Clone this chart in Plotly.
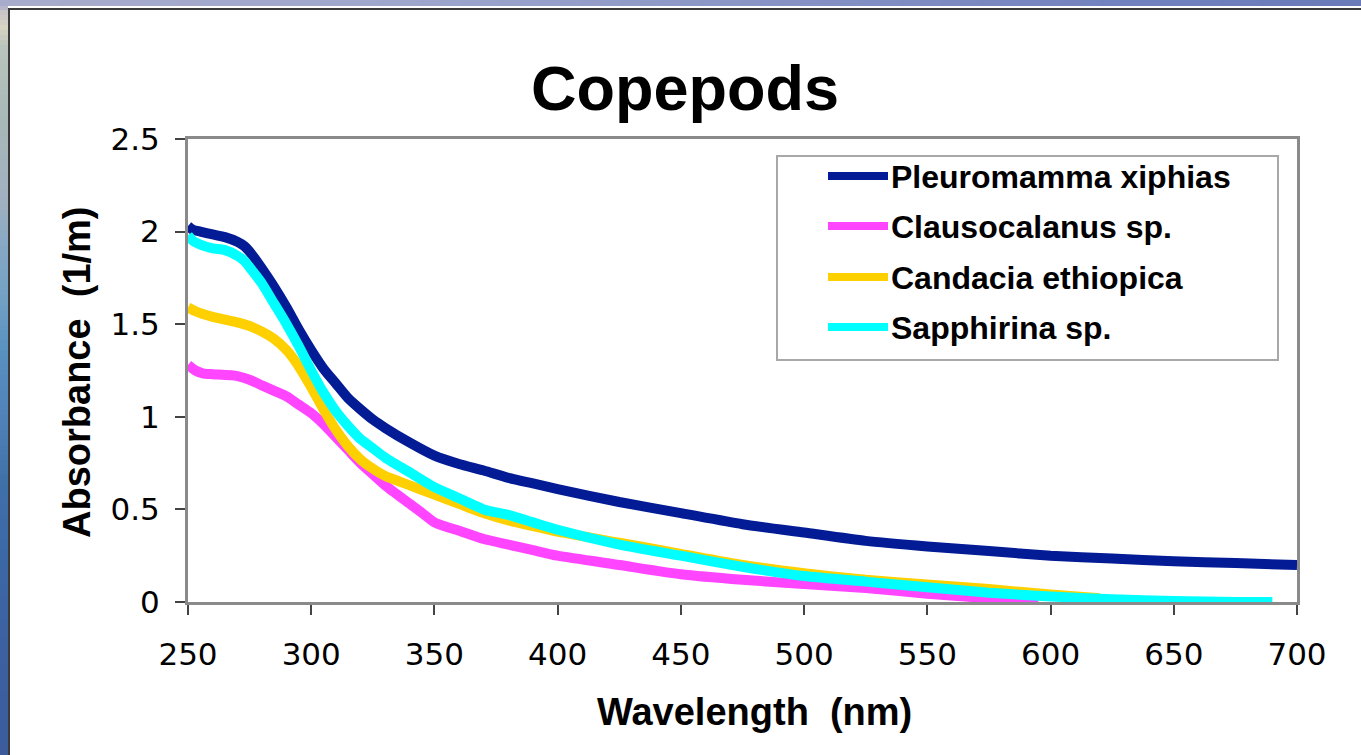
import plotly.graph_objects as go

# ---- absorbance spectra (wavelength in nm, absorbance in 1/m) ----
wl_pleuromamma = [250, 252, 255, 260, 265, 270, 273, 276, 280, 285, 290, 295, 300, 305, 310, 315, 320,
                  325, 330, 340, 350, 360, 370, 380, 390, 400, 425, 450, 475, 500, 525, 550, 575,
                  600, 625, 650, 675, 700]
abs_pleuromamma = [2.03, 2.01, 2.00, 1.985, 1.97, 1.945, 1.92, 1.875, 1.80, 1.70, 1.59, 1.47, 1.36, 1.26, 1.18, 1.10, 1.04,
                   0.985, 0.94, 0.86, 0.79, 0.745, 0.71, 0.67, 0.64, 0.61, 0.54, 0.48, 0.42, 0.375, 0.33, 0.30, 0.275,
                   0.25, 0.235, 0.22, 0.21, 0.20]

wl_clausocalanus = [250, 253, 256, 260, 270, 275, 280, 285, 290, 295, 300, 305, 310, 315, 320, 325, 330, 340, 345,
                    350, 355, 360, 370, 380, 390, 400, 425, 450, 475, 500, 525, 550, 575, 595]
abs_clausocalanus = [1.28, 1.25, 1.235, 1.23, 1.22, 1.20, 1.17, 1.14, 1.11, 1.065, 1.02, 0.96, 0.89, 0.82, 0.75, 0.69, 0.63, 0.53, 0.48,
                     0.43, 0.405, 0.385, 0.34, 0.31, 0.28, 0.25, 0.20, 0.15, 0.12, 0.097, 0.075, 0.045, 0.02, 0.0]

wl_candacia = [250, 253, 256, 260, 265, 270, 275, 280, 285, 290, 293, 296, 300, 305, 310, 315, 320, 325, 330,
               340, 350, 360, 370, 380, 390, 400, 425, 450, 475, 500, 525, 550, 575, 600, 620]
abs_candacia = [1.59, 1.57, 1.555, 1.54, 1.525, 1.51, 1.49, 1.46, 1.42, 1.36, 1.31, 1.25, 1.16, 1.04, 0.93, 0.84, 0.77, 0.72, 0.68,
                0.63, 0.58, 0.53, 0.48, 0.44, 0.41, 0.38, 0.32, 0.26, 0.20, 0.155, 0.12, 0.095, 0.07, 0.04, 0.02]

wl_sapphirina = [250, 252, 255, 260, 265, 270, 273, 276, 280, 285, 290, 295, 300, 305, 310, 315, 320,
                 325, 330, 340, 350, 360, 370, 380, 390, 400, 425, 450, 475, 500, 525, 550, 575,
                 600, 625, 650, 675, 690]
abs_sapphirina = [1.98, 1.95, 1.93, 1.91, 1.90, 1.87, 1.84, 1.79, 1.72, 1.61, 1.50, 1.38, 1.25, 1.13, 1.03, 0.95, 0.88,
                  0.83, 0.78, 0.70, 0.62, 0.56, 0.50, 0.47, 0.43, 0.39, 0.31, 0.25, 0.19, 0.14, 0.11, 0.08, 0.05,
                  0.03, 0.015, 0.005, 0.0, 0.0]

series_names = ["Pleuromamma xiphias", "Clausocalanus sp.", "Candacia ethiopica", "Sapphirina sp."]
series_colors = ["#031b94", "#ff45ff", "#ffd000", "#00ffff"]
series_x = [wl_pleuromamma, wl_clausocalanus, wl_candacia, wl_sapphirina]
series_y = [abs_pleuromamma, abs_clausocalanus, abs_candacia, abs_sapphirina]

x_ticks = [250, 300, 350, 400, 450, 500, 550, 600, 650, 700]
y_ticks = [0, 0.5, 1, 1.5, 2, 2.5]
y_tick_text = ["0", "0.5", "1", "1.5", "2", "2.5"]

# ---- page geometry ----
W, H = 1361, 755
L, R, T, B = 188, 1297, 139, 602          # plot-area edges in pixels


def xp(px):
    return (px - L) / (R - L)


def yp(py):
    return 1 - (py - T) / (B - T)


def hex2rgb(h):
    h = h.lstrip("#")
    return tuple(int(h[i:i + 2], 16) for i in (0, 2, 4))


def blend(c1, c2, t):
    a, b = hex2rgb(c1), hex2rgb(c2)
    return "rgb(%d,%d,%d)" % tuple(round(a[i] + (b[i] - a[i]) * t) for i in range(3))


fig = go.Figure()

for name, color, xs, ys in zip(series_names, series_colors, series_x, series_y):
    fig.add_trace(go.Scatter(x=xs, y=ys, mode="lines", name=name,
                             line=dict(color=color, width=10, shape="spline", smoothing=0.6),
                             showlegend=False))

shapes = []
# slide backdrop: textured blue strip on the left
left_stops = [(0, "#a4a8c8"), (10, "#c8c4c8"), (25, "#d8d4c4"), (45, "#b8c4bc"), (120, "#a8b8b8"),
              (200, "#a0b0c0"), (240, "#88a8c4"), (300, "#70a0c4"), (350, "#5890c0"),
              (420, "#5080b8"), (480, "#4070a8"), (550, "#3c68a8"), (650, "#3c60a0"), (755, "#3c5c9c")]
for (y0, c0), (y1, c1) in zip(left_stops[:-1], left_stops[1:]):
    step = 5
    yy = y0
    while yy < y1:
        y2 = min(yy + step, y1)
        shapes.append(dict(type="rect", xref="paper", yref="paper", layer="below",
                           x0=xp(0), x1=xp(8), y0=yp(yy), y1=yp(y2 + 0.5),
                           fillcolor=blend(c0, c1, (yy - y0) / (y1 - y0)), line=dict(width=0)))
        yy = y2
# slide backdrop: blue band along the top
top_stops = [(0, "#a8accc"), (400, "#9ea6cc"), (1100, "#7282be"), (1361, "#6a7ab8")]
for (x0, c0), (x1, c1) in zip(top_stops[:-1], top_stops[1:]):
    step = 20
    xx = x0
    while xx < x1:
        x2 = min(xx + step, x1)
        shapes.append(dict(type="rect", xref="paper", yref="paper", layer="below",
                           x0=xp(xx), x1=xp(x2 + 0.5), y0=yp(0), y1=yp(6),
                           fillcolor=blend(c0, c1, (xx - x0) / (x1 - x0)), line=dict(width=0)))
        xx = x2
# chart frame: dark edge on the left and top of the white panel
shapes.append(dict(type="rect", xref="paper", yref="paper", layer="below",
                   x0=xp(8), x1=xp(10), y0=yp(8), y1=yp(H), fillcolor="#3a3a3a", line=dict(width=0)))
shapes.append(dict(type="rect", xref="paper", yref="paper", layer="below",
                   x0=xp(8), x1=xp(W), y0=yp(8), y1=yp(10), fillcolor="#3a3a3a", line=dict(width=0)))

# legend box
LEG_X0, LEG_X1, LEG_Y0, LEG_Y1 = 777, 1278, 156, 360
shapes.append(dict(type="rect", xref="paper", yref="paper",
                   x0=xp(LEG_X0), x1=xp(LEG_X1), y0=yp(LEG_Y1), y1=yp(LEG_Y0),
                   fillcolor="white", line=dict(color="#a8a8a8", width=2)))
row_y = [176, 226, 277, 327]
annotations = []
for name, color, ry in zip(series_names, series_colors, row_y):
    shapes.append(dict(type="line", xref="paper", yref="paper",
                       x0=xp(828), x1=xp(888), y0=yp(ry), y1=yp(ry),
                       line=dict(color=color, width=8)))
    annotations.append(dict(text=name, xref="paper", yref="paper", x=xp(889), y=yp(ry + 1),
                            xanchor="left", yanchor="middle", showarrow=False,
                            font=dict(family="Liberation Sans", size=32, color="black", weight="bold")))

annotations.append(dict(text="Copepods", xref="paper", yref="paper", x=xp(685), y=yp(88),
                        xanchor="center", yanchor="middle", showarrow=False,
                        font=dict(family="Liberation Sans", size=63, color="black", weight="bold")))
annotations.append(dict(text="Wavelength\u00a0\u00a0(nm)", xref="paper", yref="paper", x=xp(754), y=yp(712),
                        xanchor="center", yanchor="middle", showarrow=False,
                        font=dict(family="Liberation Sans", size=38, color="black", weight="bold")))
annotations.append(dict(text="Absorbance\u00a0\u00a0(1/m)", xref="paper", yref="paper", x=xp(77), y=yp(372),
                        xanchor="center", yanchor="middle", showarrow=False, textangle=-90,
                        font=dict(family="Liberation Sans", size=38, color="black", weight="bold")))

axis_common = dict(showgrid=False, zeroline=False, mirror=True, showline=True,
                   linecolor="#8a8a8a", linewidth=3, ticks="outside", ticklen=10,
                   tickwidth=2, tickcolor="#444444",
                   tickfont=dict(family="DejaVu Sans", size=31, color="black"))

fig.update_layout(
    width=W, height=H,
    margin=dict(l=L, r=W - R, t=T, b=H - B, pad=0),
    paper_bgcolor="white", plot_bgcolor="white",
    xaxis=dict(range=[250, 700], tickvals=x_ticks, ticklabelstandoff=13, **axis_common),
    yaxis=dict(range=[0, 2.5], tickvals=y_ticks, ticktext=y_tick_text, ticklabelstandoff=9, **axis_common),
    shapes=shapes, annotations=annotations, showlegend=False,
)

fig.write_html("out.html")
